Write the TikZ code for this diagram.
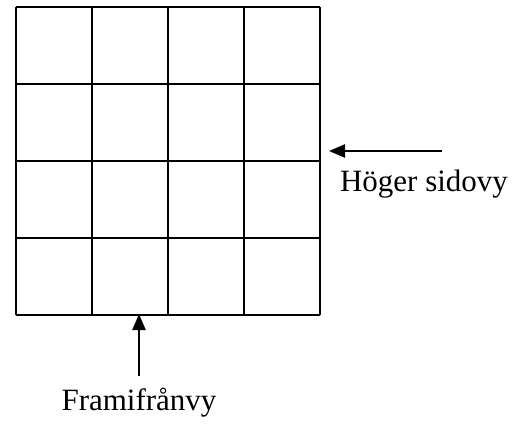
\documentclass[tikz,border=0pt]{standalone}
\usepackage{fontspec}
\setmainfont{Liberation Serif}
\usetikzlibrary{arrows.meta}
\begin{document}
\begin{tikzpicture}[x=1pt,y=-1pt,line width=2.4pt,
  every node/.style={font=\fontsize{31}{34}\selectfont},
  viewarrow/.style={-{Triangle[length=16pt,width=13pt]},line width=2.4pt}]
\useasboundingbox (0,0) rectangle (525,425);
% grid
\foreach \i in {0,...,4} {
  \draw (16+76*\i,7) -- (16+76*\i,315);
  \draw (16,7+77*\i) -- (320,7+77*\i);
}
\coordinate (sidetip) at (329,151);
\coordinate (sidetail) at (442,151);
\coordinate (fronttip) at (139,314);
\coordinate (fronttail) at (139,376);
% views
\node (side) at (424,184) {Höger sidovy};
\node (front) at (139,403) {Framifrånvy};
\draw[viewarrow] (sidetail) -- (sidetip);
\draw[viewarrow] (fronttail) -- (fronttip);
\end{tikzpicture}
\end{document}
